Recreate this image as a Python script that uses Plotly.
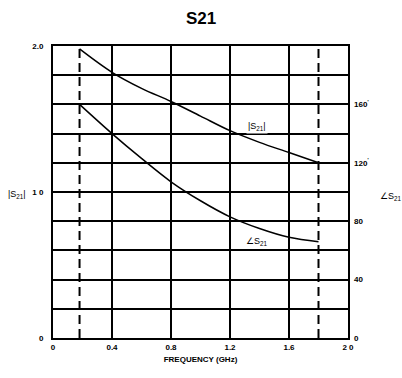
import plotly.graph_objects as go

freq = [0.18, 0.4, 0.6, 0.8, 1.0, 1.2, 1.4, 1.6, 1.8]
mag_s21 = [1.98, 1.82, 1.71, 1.62, 1.52, 1.42, 1.34, 1.27, 1.20]
ang_s21 = [160, 140, 123, 107, 94, 83, 75, 69, 66]
band_edges = [0.18, 1.8]

x_ticks = [0, 0.4, 0.8, 1.2, 1.6, 2.0]
x_ticktext = ["0", "0.4", "0.8", "1.2", "1.6", "2 0"]
y_ticks = [0, 0.2, 0.4, 0.6, 0.8, 1.0, 1.2, 1.4, 1.6, 1.8, 2.0]
y_ticktext = ["0", "", "", "", "", "1 0", "", "", "", "", "2.0"]
y2_ticks = [0, 40, 80, 120, 160]
y2_ticktext = ["0", "40", "80", "120<sup>’</sup>", "160<sup>’</sup>"]

FONT = "Liberation Sans"
tickfont = dict(family=FONT, size=8, color="black", weight="bold")

fig = go.Figure()
for xe in band_edges:
    fig.add_trace(go.Scatter(x=[xe, xe], y=[0, 2], mode="lines",
                             line=dict(color="black", width=2, dash="9px,5px"),
                             showlegend=False, hoverinfo="skip"))
fig.add_trace(go.Scatter(x=freq, y=mag_s21, mode="lines",
                         line=dict(color="black", width=1.5, shape="spline"),
                         showlegend=False))
fig.add_trace(go.Scatter(x=freq, y=ang_s21, mode="lines", yaxis="y2",
                         line=dict(color="black", width=1.5, shape="spline"),
                         showlegend=False))

fig.update_layout(
    width=402, height=378,
    margin=dict(l=53, r=54, t=46, b=40),
    paper_bgcolor="white", plot_bgcolor="white",
    title=dict(text="<b>S21</b>", x=0.5, xanchor="center", y=0.952, yanchor="middle",
               font=dict(family=FONT, size=17, color="black")),
    xaxis=dict(range=[0, 2], tickvals=x_ticks, ticktext=x_ticktext,
               showgrid=True, gridcolor="black", gridwidth=2,
               showline=True, linecolor="black", linewidth=2, mirror=True,
               zeroline=False, ticks="", tickfont=tickfont,
               title=dict(text="FREQUENCY (GHz)", standoff=6,
                          font=dict(family=FONT, size=8, color="black", weight="bold"))),
    yaxis=dict(range=[0, 2], tickvals=y_ticks, ticktext=y_ticktext,
               showgrid=True, gridcolor="black", gridwidth=2,
               showline=True, linecolor="black", linewidth=2, mirror=True,
               zeroline=False, ticks="", tickfont=tickfont, ticklabelstandoff=6),
    yaxis2=dict(range=[0, 200], overlaying="y", side="right",
                tickvals=y2_ticks, ticktext=y2_ticktext, showgrid=False,
                zeroline=False, ticks="", tickfont=tickfont, ticklabelstandoff=5),
    annotations=[
        dict(text="|S<sub>21</sub>|", xref="paper", yref="paper", x=-0.16, y=0.49,
             xanchor="left", showarrow=False, font=dict(family=FONT, size=9, color="black")),
        dict(text="∠S<sub>21</sub>", xref="paper", yref="paper", x=1.10, y=0.485,
             xanchor="left", showarrow=False, font=dict(family=FONT, size=9, color="black")),
        dict(text="|S<sub>21</sub>|", xref="x", yref="y", x=1.38, y=1.45,
             showarrow=False, bgcolor="white", font=dict(family=FONT, size=9, color="black")),
        dict(text="∠S<sub>21</sub>", xref="x", yref="y", x=1.38, y=0.66,
             showarrow=False, font=dict(family=FONT, size=9, color="black")),
    ],
)

fig.write_html("out.html", config={"displayModeBar": False},
               post_script="document.body.style.margin='0';document.body.style.overflow='hidden';")
